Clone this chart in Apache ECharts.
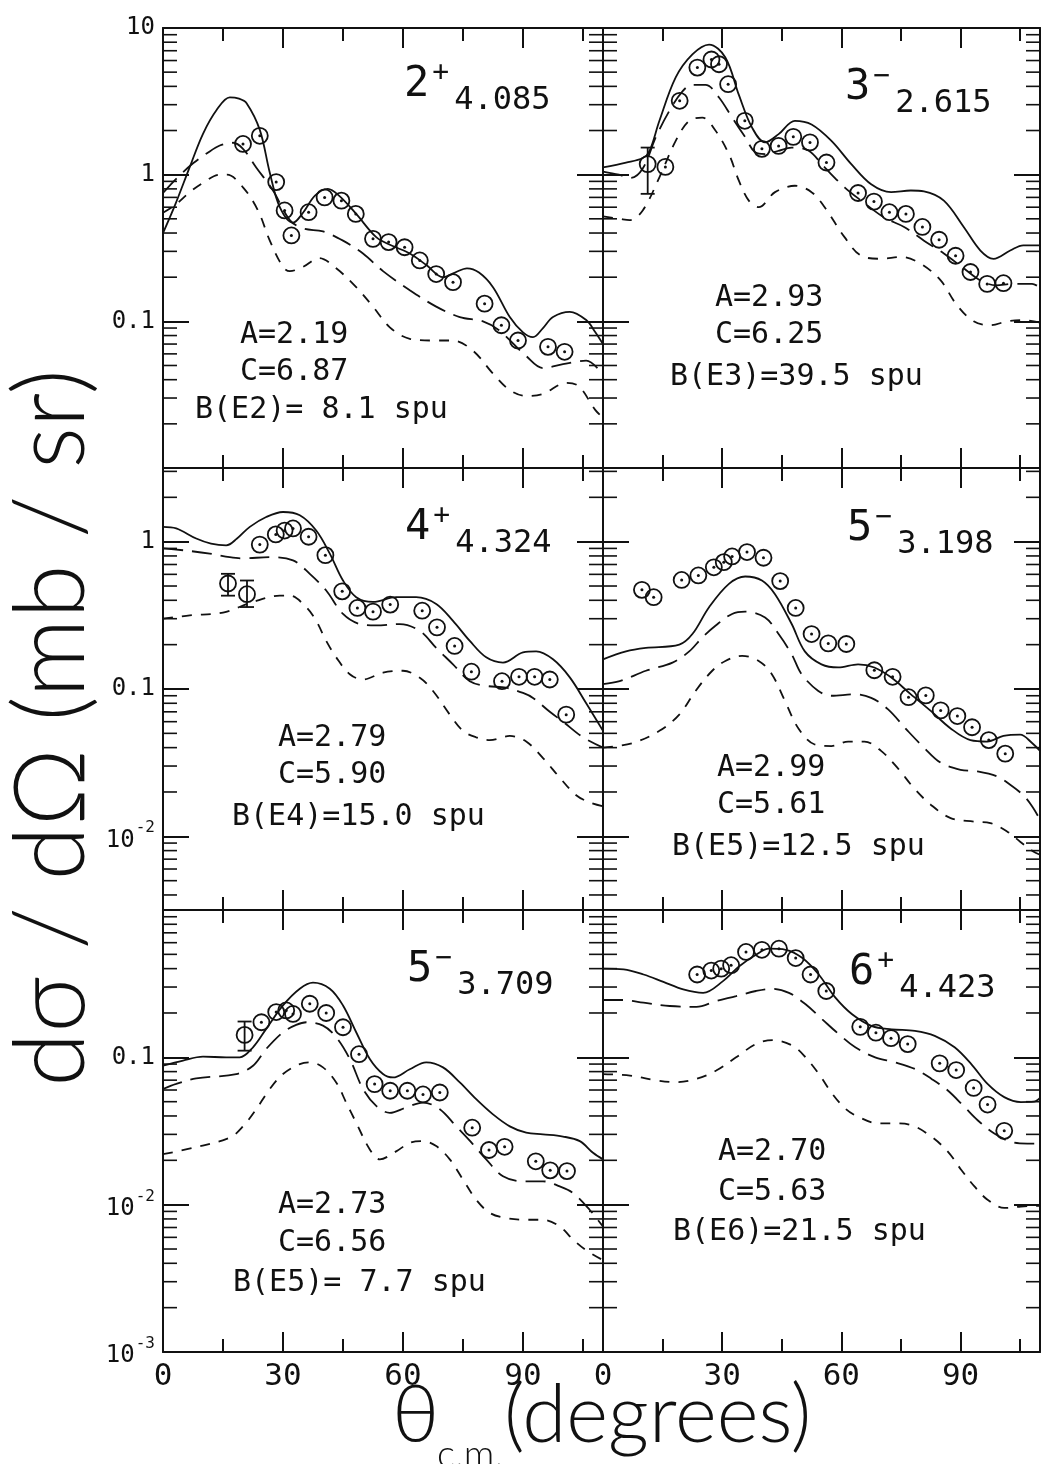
<!DOCTYPE html>
<html>
<head>
<meta charset="utf-8">
<title>Angular distributions, 6 panels</title>
<script src="https://cdn.jsdelivr.net/npm/echarts@6/dist/echarts.min.js"></script>
<style>
  html, body { margin: 0; padding: 0; background: #fff; }
  #chart { width: 1043px; height: 1464px; }
</style>
</head>
<body>
<div id="chart"></div>
<script>
// theta_cm (deg) vs dsigma/dOmega (mb/sr)
// panel 1 : 2+ 4.085
const p1Solid = [[0,0.40],[3,0.62],[6.7,1.13],[10,1.9],[13.4,2.76],[16.7,3.37],[19,3.3],[20.9,3.07],[24.2,2.02],[26.7,1.03],[29.2,0.6],[32.5,0.47],[35,0.55],[38,0.72],[41.2,0.8],[44,0.72],[48.3,0.54],[53.3,0.375],[57,0.33],[61.7,0.29],[66,0.24],[70,0.2],[73,0.215],[76,0.23],[79,0.215],[82.5,0.171],[86.7,0.107],[90,0.084],[92.5,0.078],[95,0.09],[97.5,0.107],[101.7,0.116],[105.8,0.102],[108,0.085],[110,0.07]];
const p1Long = [[0,0.75],[3.5,0.95],[7.6,1.2],[11,1.4],[14.2,1.58],[17.5,1.65],[20,1.5],[23.3,1.12],[27.5,0.78],[31.7,0.49],[35,0.43],[40,0.41],[45,0.355],[50,0.29],[55,0.22],[61.7,0.163],[68.3,0.126],[74.2,0.107],[80,0.1],[84,0.087],[90.8,0.058],[95,0.048],[100,0.051],[105.8,0.054],[110,0.043]];
const p1Short = [[0,0.55],[3,0.62],[6.7,0.76],[10,0.88],[14.2,1.0],[16,1.0],[20,0.82],[23.75,0.57],[26.7,0.355],[30,0.235],[31.7,0.22],[35,0.235],[39,0.27],[43.3,0.23],[48.3,0.171],[52.5,0.126],[56.7,0.091],[61.7,0.076],[67.5,0.074],[72.5,0.074],[77.5,0.063],[82.5,0.044],[86.7,0.034],[90.8,0.031],[95,0.032],[100.8,0.038],[104,0.036],[108,0.025],[110,0.022]];
const p1Points = [[20,1.62],[24.2,1.84],[28.3,0.89],[30.4,0.57],[32.1,0.385],[36.4,0.555],[40.4,0.70],[44.6,0.665],[48.2,0.54],[52.5,0.365],[56.4,0.347],[60.4,0.32],[64.2,0.26],[68.3,0.21],[72.5,0.185],[80.4,0.132],[84.6,0.094],[88.75,0.074],[96.25,0.067],[100.4,0.062]];
const p1Errors = [];

// panel 2 : 3- 2.615
const p2Solid = [[0,1.12],[5.8,1.21],[10,1.3],[11.7,1.45],[14.2,2.33],[18.3,4.6],[22.5,6.6],[26.7,7.7],[30.8,6.3],[34.2,3.5],[37.5,2.1],[40.8,1.66],[44.2,1.89],[48.3,2.33],[52.5,2.2],[57.5,1.7],[62.5,1.18],[67.5,0.86],[72.5,0.76],[77.5,0.78],[80.8,0.77],[85.8,0.665],[90.8,0.44],[95,0.304],[98.3,0.267],[102.5,0.304],[105.8,0.33],[110,0.33]];
const p2Long = [[0,1.05],[4,1.0],[7,0.95],[10,1.1],[13.3,1.8],[16.7,2.72],[20,3.7],[22.5,4.1],[25.8,4.1],[29.2,3.36],[32.5,2.45],[35.8,1.8],[38.3,1.42],[40.8,1.38],[44,1.45],[47.5,1.53],[51.7,1.46],[55.8,1.12],[60.8,0.82],[65,0.665],[70.8,0.51],[75.8,0.44],[80.8,0.355],[85.8,0.29],[90.8,0.23],[95,0.19],[99,0.176],[103,0.18],[108,0.18],[110,0.17]];
const p2Short = [[0,0.52],[4.2,0.5],[6.7,0.49],[10,0.57],[14.2,0.96],[18.3,1.7],[21.7,2.33],[25,2.45],[28.3,2.0],[31.7,1.38],[34.2,0.91],[36.7,0.665],[39.2,0.6],[43.3,0.76],[48.3,0.84],[52.5,0.76],[55.8,0.6],[60.8,0.375],[65,0.28],[70,0.267],[75,0.275],[80,0.247],[85,0.19],[89,0.13],[93.3,0.1],[97.5,0.094],[101.7,0.1],[105.8,0.102],[110,0.098]];
const p2Points = [[15.7,1.13],[19.3,3.19],[23.75,5.37],[27.3,6.1],[29.2,5.66],[31.5,4.14],[35.7,2.33],[40,1.5],[44.2,1.57],[47.9,1.81],[52.1,1.66],[56.25,1.21],[64.2,0.75],[68.2,0.655],[72.1,0.555],[76.25,0.54],[80.4,0.44],[84.6,0.36],[88.75,0.28],[92.5,0.217],[96.7,0.18],[100.8,0.182]];
const p2Errors = [[11.25,1.18,0.74,1.53]];   // angle, value, low, high

// panel 3 : 4+ 4.324
const p3Solid = [[0,1.26],[3.3,1.23],[8.3,1.05],[12,0.97],[15.8,0.944],[18.5,1.05],[21.7,1.26],[25.8,1.47],[30,1.59],[34.2,1.51],[38.3,1.19],[41.7,0.83],[45,0.545],[48.3,0.42],[52.5,0.39],[58.3,0.42],[63.3,0.42],[68.3,0.378],[72.5,0.29],[76.7,0.212],[80.8,0.164],[85,0.151],[90,0.177],[93.3,0.18],[97.5,0.159],[101.7,0.12],[105.8,0.08],[110,0.052]];
const p3Long = [[0,0.9],[5.8,0.87],[11.7,0.83],[16.7,0.785],[20,0.77],[26.7,0.785],[32.5,0.746],[36.7,0.605],[40.8,0.466],[45,0.323],[49.2,0.276],[53.3,0.27],[59.2,0.276],[64.2,0.248],[68.3,0.19],[72.5,0.147],[76.7,0.113],[80.8,0.105],[85.8,0.102],[90,0.094],[92.5,0.087],[96.7,0.07],[100,0.06],[105,0.047],[110,0.04]];
const p3Short = [[0,0.3],[6.7,0.316],[15,0.33],[22.5,0.39],[29.2,0.43],[31.7,0.43],[35.8,0.359],[38.3,0.29],[40.8,0.212],[43.3,0.164],[46.7,0.126],[50,0.116],[55,0.129],[60,0.133],[64.2,0.119],[67.5,0.097],[71.7,0.067],[75,0.052],[78.3,0.047],[81.7,0.045],[86.7,0.048],[90.8,0.044],[95,0.034],[99.2,0.025],[103.3,0.019],[106.7,0.017],[110,0.016]];
const p3Points = [[24.2,0.955],[28.2,1.12],[30.4,1.19],[32.5,1.23],[36.4,1.08],[40.6,0.81],[44.8,0.46],[48.6,0.355],[52.5,0.335],[56.8,0.374],[64.8,0.34],[68.5,0.262],[72.9,0.196],[77.1,0.131],[84.75,0.113],[89,0.121],[92.9,0.121],[96.7,0.116],[100.8,0.067]];
const p3Errors = [[16.25,0.52,0.43,0.605],[21,0.44,0.36,0.545]];

// panel 4 : 5- 3.198
const p4Solid = [[0,0.159],[5.8,0.18],[10.8,0.19],[19.2,0.2],[22.5,0.236],[26.7,0.359],[31.7,0.517],[35.8,0.58],[40,0.545],[43.3,0.44],[47.5,0.276],[50.8,0.18],[55,0.147],[59.2,0.14],[64.2,0.147],[68.3,0.14],[72.5,0.12],[77.5,0.092],[82.5,0.071],[87.5,0.054],[92.5,0.045],[96.7,0.044],[100.8,0.048],[105,0.049],[108,0.043],[110,0.038]];
const p4Long = [[0,0.108],[4.2,0.113],[10.8,0.133],[17.5,0.151],[21.7,0.18],[25,0.224],[28.3,0.269],[32.5,0.323],[35.8,0.335],[40.8,0.306],[44.2,0.236],[47.5,0.172],[50,0.126],[54.2,0.097],[57.5,0.09],[63.3,0.092],[67.5,0.087],[71.7,0.073],[76.7,0.052],[80.8,0.04],[85,0.0316],[90,0.0283],[94.2,0.0276],[99.2,0.0255],[102.5,0.0224],[105.8,0.019],[108,0.016],[110,0.013]];
const p4Short = [[0,0.04],[7.5,0.043],[14.2,0.052],[19.2,0.067],[23.3,0.097],[27.5,0.133],[30.8,0.155],[35,0.168],[39.2,0.155],[42.5,0.126],[45.8,0.083],[49.2,0.054],[53.3,0.042],[57.5,0.041],[61.7,0.044],[65.8,0.044],[70,0.038],[74.2,0.029],[78.3,0.0212],[82.5,0.0164],[87.5,0.0133],[93.3,0.0126],[97.5,0.0123],[101.7,0.0108],[105,0.0092],[108.3,0.0079],[110,0.0075]];
const p4Points = [[9.8,0.471],[12.75,0.42],[19.8,0.55],[24,0.59],[27.9,0.67],[30.4,0.726],[32.5,0.794],[36.25,0.85],[40.4,0.778],[44.6,0.54],[48.5,0.355],[52.5,0.236],[56.7,0.204],[61.25,0.202],[68.3,0.134],[72.9,0.121],[76.9,0.088],[81.25,0.0905],[85,0.0716],[89.2,0.0655],[92.9,0.055],[97.1,0.045],[101.25,0.0364]];
const p4Errors = [];

// panel 5 : 5- 3.709
const p5Solid = [[0,0.0877],[5,0.095],[10,0.101],[15.8,0.1],[19.2,0.1],[22.5,0.117],[25.8,0.156],[30,0.225],[34.2,0.292],[37.5,0.321],[41.7,0.292],[45,0.225],[48.3,0.148],[51.7,0.0974],[55,0.077],[57.5,0.073],[61.7,0.083],[65.8,0.0925],[70,0.0855],[74.2,0.0676],[78.3,0.052],[82.5,0.041],[86.7,0.034],[90.8,0.0308],[95,0.03],[100,0.029],[104.2,0.027],[107.5,0.0225],[110,0.0203]];
const p5Long = [[0,0.061],[3.3,0.066],[8.3,0.072],[18.3,0.077],[22.5,0.0877],[25.8,0.114],[30,0.148],[33.3,0.166],[35.8,0.173],[40,0.164],[43.3,0.137],[46.7,0.0974],[50,0.061],[53.3,0.0468],[56.7,0.042],[60.8,0.0457],[65,0.0493],[69.2,0.0444],[73.3,0.034],[77.5,0.0257],[80.8,0.0203],[85,0.0156],[90,0.0144],[95,0.0144],[99.2,0.0133],[102.5,0.012],[106.7,0.0092],[110,0.0071]];
const p5Short = [[0,0.022],[7.5,0.0243],[16.7,0.0285],[20,0.034],[23.3,0.0444],[26.7,0.061],[30,0.077],[34.2,0.09],[36.7,0.0925],[40,0.0855],[43.3,0.0676],[45.8,0.0493],[48.3,0.036],[51.7,0.0237],[54.2,0.0203],[58.3,0.023],[61.7,0.0263],[65,0.027],[68.3,0.025],[71.7,0.0203],[75,0.0148],[78.3,0.0108],[81.7,0.0088],[85.8,0.0081],[90.8,0.0079],[95,0.0079],[99.2,0.0071],[102.5,0.0058],[105.8,0.0049],[110,0.0042]];
const p5Points = [[24.6,0.173],[28.3,0.203],[30.8,0.208],[32.5,0.197],[36.7,0.231],[40.8,0.2],[45,0.16],[49,0.105],[52.9,0.0658],[56.8,0.0593],[61.1,0.0593],[65,0.056],[69.2,0.0577],[77.3,0.0333],[81.5,0.0235],[85.4,0.0247],[93.2,0.0197],[96.8,0.0171],[101,0.0169]];
const p5Errors = [[20.4,0.142,0.111,0.175]];

// panel 6 : 6+ 4.423
const p6Solid = [[0,0.4],[5.2,0.395],[10.2,0.365],[15.2,0.325],[20.2,0.289],[25.2,0.274],[30.2,0.329],[34.3,0.415],[38.5,0.497],[41.8,0.546],[46,0.537],[50.2,0.472],[54.3,0.365],[58.5,0.254],[62.7,0.196],[67.7,0.163],[72.7,0.155],[78.5,0.151],[83.5,0.14],[88.5,0.117],[92.7,0.09],[96.8,0.066],[101,0.0537],[105.2,0.0497],[108.5,0.05],[110,0.053]];
const p6Long = [[0,0.245],[5,0.245],[10.2,0.235],[16.8,0.223],[23.5,0.22],[28.5,0.241],[33.5,0.26],[38.5,0.282],[42.7,0.292],[46.8,0.274],[51,0.229],[55.2,0.181],[59.3,0.144],[63.5,0.117],[68.5,0.1],[73.5,0.0925],[78.5,0.0834],[82.7,0.0714],[86.8,0.0596],[91,0.046],[94.3,0.0374],[98.5,0.0304],[102.7,0.0267],[106.8,0.026],[110,0.026]];
const p6Short = [[0,0.077],[6.8,0.0752],[13.5,0.0697],[18.5,0.0678],[23.5,0.0714],[28.5,0.0813],[33.5,0.1],[38.5,0.123],[42.7,0.131],[47.7,0.12],[51,0.1],[54.3,0.0773],[57.7,0.0566],[61,0.0449],[64.3,0.0394],[69.3,0.0356],[73.5,0.0356],[77.7,0.0346],[82.7,0.0289],[86.8,0.0229],[90.2,0.0172],[93.5,0.0133],[96.8,0.0108],[101,0.0095],[105.2,0.0097],[108.5,0.0098],[110,0.0098]];
const p6Points = [[23.7,0.365],[27.25,0.388],[29.75,0.4],[32.25,0.422],[36,0.519],[40,0.537],[44.3,0.546],[48.5,0.472],[52.25,0.365],[56.2,0.282],[64.75,0.161],[68.7,0.147],[72.5,0.135],[76.7,0.123],[84.75,0.091],[88.9,0.082],[93.3,0.062],[96.8,0.0478],[101,0.0317]];
const p6Errors = [];

// panel texts
const stateSpin = ['2', '3', '4', '5', '5', '6'];
const stateParity = ['+', '\u2212', '+', '\u2212', '\u2212', '+'];
const stateEnergy = ['4.085', '2.615', '4.324', '3.198', '3.709', '4.423'];
const paramA = ['A=2.19', 'A=2.93', 'A=2.79', 'A=2.99', 'A=2.73', 'A=2.70'];
const paramC = ['C=6.87', 'C=6.25', 'C=5.90', 'C=5.61', 'C=6.56', 'C=5.63'];
const paramB = ['B(E2)= 8.1 spu', 'B(E3)=39.5 spu', 'B(E4)=15.0 spu', 'B(E5)=12.5 spu', 'B(E5)= 7.7 spu', 'B(E6)=21.5 spu'];

// axis ranges / labels per row
const yMin = [0.01, Math.pow(10, -2.5), 0.001];
const yMax = [10, Math.pow(10, 0.5), 1];
const yLabelExps = [[1, 0, -1], [0, -1, -2], [-1, -2, -3]];
const xLabels = [0, 30, 60, 90];

const panels = [
  { solid: p1Solid, long: p1Long, short: p1Short, pts: p1Points, err: p1Errors },
  { solid: p2Solid, long: p2Long, short: p2Short, pts: p2Points, err: p2Errors },
  { solid: p3Solid, long: p3Long, short: p3Short, pts: p3Points, err: p3Errors },
  { solid: p4Solid, long: p4Long, short: p4Short, pts: p4Points, err: p4Errors },
  { solid: p5Solid, long: p5Long, short: p5Short, pts: p5Points, err: p5Errors },
  { solid: p6Solid, long: p6Long, short: p6Short, pts: p6Points, err: p6Errors }
];

// layout
const colLeft = [163, 603], colWidth = [440, 437];
const rowTop = [28, 468, 910], rowHeight = [440, 442, 442];
// offsets inside each panel: title, A/C lines, B line
const textPos = [
  { tx: 241, tc: 57, ax: 77, ay: 307, cy: 344, bx: 32, by: 382 },
  { tx: 242, tc: 60, ax: 112, ay: 270, cy: 307, bx: 67, by: 349 },
  { tx: 242, tc: 60, ax: 115, ay: 270, cy: 307, bx: 69, by: 349 },
  { tx: 244, tc: 61, ax: 114, ay: 300, cy: 337, bx: 69, by: 379 },
  { tx: 244, tc: 60, ax: 115, ay: 295, cy: 333, bx: 70, by: 373 },
  { tx: 246, tc: 63, ax: 115, ay: 242, cy: 282, bx: 70, by: 322 }
];

const MONO = "'DejaVu Sans Mono', 'Liberation Mono', monospace";
const BIG = "Lato, 'DejaVu Sans', sans-serif";
const INK = '#111';

function yLabelFormatter(row) {
  return function (v) {
    const l = Math.log10(v), e = Math.round(l);
    if (Math.abs(l - e) > 0.01 || yLabelExps[row].indexOf(e) < 0) return '';
    if (e === 1) return '10';
    if (e === 0) return '1';
    if (e === -1) return '0.1';
    return '{b|10}{s|-' + Math.abs(e) + '}';
  };
}

function renderPoint(params, api) {
  const c = api.coord([api.value(0), api.value(1)]);
  return { type: 'group', children: [
    { type: 'circle', shape: { cx: c[0], cy: c[1], r: 8 }, style: { fill: 'none', stroke: INK, lineWidth: 1.8 } },
    { type: 'circle', shape: { cx: c[0], cy: c[1], r: 1.5 }, style: { fill: INK } }
  ] };
}

function renderError(params, api) {
  const x = api.value(0);
  const c = api.coord([x, api.value(1)]);
  const lo = api.coord([x, api.value(2)]);
  const hi = api.coord([x, api.value(3)]);
  const s = { stroke: INK, lineWidth: 1.8 };
  return { type: 'group', children: [
    { type: 'line', shape: { x1: c[0], y1: lo[1], x2: c[0], y2: hi[1] }, style: s },
    { type: 'line', shape: { x1: c[0] - 7, y1: lo[1], x2: c[0] + 7, y2: lo[1] }, style: s },
    { type: 'line', shape: { x1: c[0] - 7, y1: hi[1], x2: c[0] + 7, y2: hi[1] }, style: s },
    { type: 'circle', shape: { cx: c[0], cy: c[1], r: 8 }, style: { fill: 'none', stroke: INK, lineWidth: 1.8 } }
  ] };
}

// minor log ticks (2..9 per decade) on both vertical frame sides
function renderMinorTick(params, api) {
  const v = api.value(1);
  const a = api.coord([0, v]);
  const b = api.coord([110, v]);
  const s = { stroke: INK, lineWidth: 1.6 };
  return { type: 'group', children: [
    { type: 'line', shape: { x1: a[0], y1: a[1], x2: a[0] + 14, y2: a[1] }, style: s },
    { type: 'line', shape: { x1: b[0] - 14, y1: b[1], x2: b[0], y2: b[1] }, style: s }
  ] };
}

function minorTickValues(row) {
  const out = [];
  for (let e = -4; e <= 1; e++) {
    for (let m = 2; m <= 9; m++) {
      const v = m * Math.pow(10, e);
      if (v > yMin[row] * 1.001 && v < yMax[row] * 0.999) out.push([0, v]);
    }
  }
  return out;
}

const grids = [], xAxes = [], yAxes = [], series = [], graphics = [];
const frame = { show: true, onZero: false, lineStyle: { color: INK, width: 2 } };

panels.forEach(function (p, g) {
  const row = Math.floor(g / 2), col = g % 2;
  const left = colLeft[col], top = rowTop[row];
  grids.push({ left: left, top: top, width: colWidth[col], height: rowHeight[row], outerBoundsMode: 'none' });

  const xBase = { gridIndex: g, type: 'value', min: 0, max: 110, splitLine: { show: false } };
  // bottom major (labels on last row), bottom minor, top major, top minor
  xAxes.push(Object.assign({}, xBase, {
    position: 'bottom', interval: 30, axisLine: frame,
    axisTick: { inside: true, length: 20, lineStyle: { color: INK, width: 2 } },
    axisLabel: {
      show: row === 2, margin: 9, color: INK, fontSize: 31, fontFamily: MONO,
      showMinLabel: true, showMaxLabel: true, hideOverlap: false,
      formatter: function (v) { return xLabels.indexOf(v) >= 0 ? String(v) : ''; }
    }
  }));
  xAxes.push(Object.assign({}, xBase, {
    position: 'bottom', interval: 15, axisLine: { show: false },
    axisTick: { inside: true, length: 13, lineStyle: { color: INK, width: 2 } }, axisLabel: { show: false }
  }));
  xAxes.push(Object.assign({}, xBase, {
    position: 'top', interval: 30, axisLine: frame,
    axisTick: { inside: true, length: 20, lineStyle: { color: INK, width: 2 } }, axisLabel: { show: false }
  }));
  xAxes.push(Object.assign({}, xBase, {
    position: 'top', interval: 15, axisLine: { show: false },
    axisTick: { inside: true, length: 13, lineStyle: { color: INK, width: 2 } }, axisLabel: { show: false }
  }));

  const yBase = { gridIndex: g, type: 'log', logBase: 10, min: yMin[row], max: yMax[row], splitLine: { show: false },
    axisLine: frame, axisTick: { inside: true, length: 26, lineStyle: { color: INK, width: 2 } } };
  yAxes.push(Object.assign({}, yBase, {
    position: 'left',
    axisLabel: {
      show: col === 0, margin: 8, color: INK, fontSize: 24, fontFamily: MONO,
      showMinLabel: true, showMaxLabel: true, hideOverlap: false,
      formatter: yLabelFormatter(row),
      rich: {
        b: { fontSize: 24, fontFamily: MONO, color: INK, verticalAlign: 'top', padding: [8, 0, 0, 0] },
        s: { fontSize: 16, fontFamily: MONO, color: INK, verticalAlign: 'top', padding: [0, 0, 0, 1] }
      }
    }
  }));
  yAxes.push(Object.assign({}, yBase, { position: 'right', axisLabel: { show: false } }));

  const xi = 4 * g, yi = 2 * g;
  const lineBase = { type: 'line', xAxisIndex: xi, yAxisIndex: yi, showSymbol: false, symbol: 'none',
    smooth: 0.35, silent: true, z: 2 };
  series.push(Object.assign({}, lineBase, { data: p.solid, lineStyle: { color: INK, width: 1.8, type: 'solid' } }));
  series.push(Object.assign({}, lineBase, { data: p.long, lineStyle: { color: INK, width: 1.8, type: [20, 9] } }));
  series.push(Object.assign({}, lineBase, { data: p.short, lineStyle: { color: INK, width: 1.8, type: [10, 9] } }));
  series.push({ type: 'custom', xAxisIndex: xi, yAxisIndex: yi, data: p.pts, renderItem: renderPoint,
    encode: { x: 0, y: 1 }, silent: true, z: 3 });
  if (p.err.length) {
    series.push({ type: 'custom', xAxisIndex: xi, yAxisIndex: yi, data: p.err, renderItem: renderError,
      encode: { x: 0, y: [1, 2, 3] }, silent: true, z: 3 });
  }
  series.push({ type: 'custom', xAxisIndex: xi, yAxisIndex: yi, data: minorTickValues(row),
    renderItem: renderMinorTick, encode: { x: 0, y: 1 }, silent: true, z: 4 });

  // state label and parameters
  const tp = textPos[g];
  graphics.push({
    type: 'text', x: left + tp.tx, y: top + tp.tc - 33, silent: true,
    style: {
      text: '{m|' + stateSpin[g] + '}{p|' + stateParity[g] + '}{s|' + stateEnergy[g] + '}',
      fill: INK, fontSize: 42, fontFamily: MONO, align: 'left', verticalAlign: 'top',
      rich: {
        m: { fontSize: 42, fontFamily: MONO, fill: INK, verticalAlign: 'top', padding: [12, 0, 0, 0] },
        p: { fontSize: 28, fontFamily: MONO, fill: INK, verticalAlign: 'top', padding: [8, 0, 0, 3] },
        s: { fontSize: 32, fontFamily: MONO, fill: INK, verticalAlign: 'top', padding: [33, 0, 0, 5] }
      }
    }
  });
  [[paramA[g], tp.ax, tp.ay], [paramC[g], tp.ax, tp.cy], [paramB[g], tp.bx, tp.by]].forEach(function (t) {
    graphics.push({
      type: 'text', x: left + t[1], y: top + t[2], silent: true,
      style: { text: t[0], fill: INK, fontSize: 30, fontFamily: MONO, align: 'left', verticalAlign: 'middle' }
    });
  });
});

// axis titles
graphics.push({
  type: 'text', x: 52, y: 728, rotation: Math.PI / 2, silent: true,
  style: { text: 'd\u03c3 / d\u03a9 (mb / sr)', fill: INK, fontSize: 98, fontFamily: BIG, fontWeight: 300,
    align: 'center', verticalAlign: 'middle' }
});
graphics.push({
  type: 'text', x: 392, y: 1416, silent: true,
  style: { text: '\u03b8', fill: INK, fontSize: 80, fontFamily: BIG, fontWeight: 300, align: 'left', verticalAlign: 'middle' }
});
graphics.push({
  type: 'text', x: 437, y: 1455, silent: true,
  style: { text: 'c.m.', fill: INK, fontSize: 38, fontFamily: BIG, fontWeight: 300, align: 'left', verticalAlign: 'middle' }
});
graphics.push({
  type: 'text', x: 504, y: 1416, silent: true,
  style: { text: '(degrees)', fill: INK, fontSize: 80, fontFamily: BIG, fontWeight: 300, align: 'left', verticalAlign: 'middle' }
});

const chart = echarts.init(document.getElementById('chart'), null, { renderer: 'canvas' });
chart.setOption({
  backgroundColor: '#fff',
  animation: false,
  grid: grids,
  xAxis: xAxes,
  yAxis: yAxes,
  series: series,
  graphic: graphics
});
</script>
</body>
</html>
